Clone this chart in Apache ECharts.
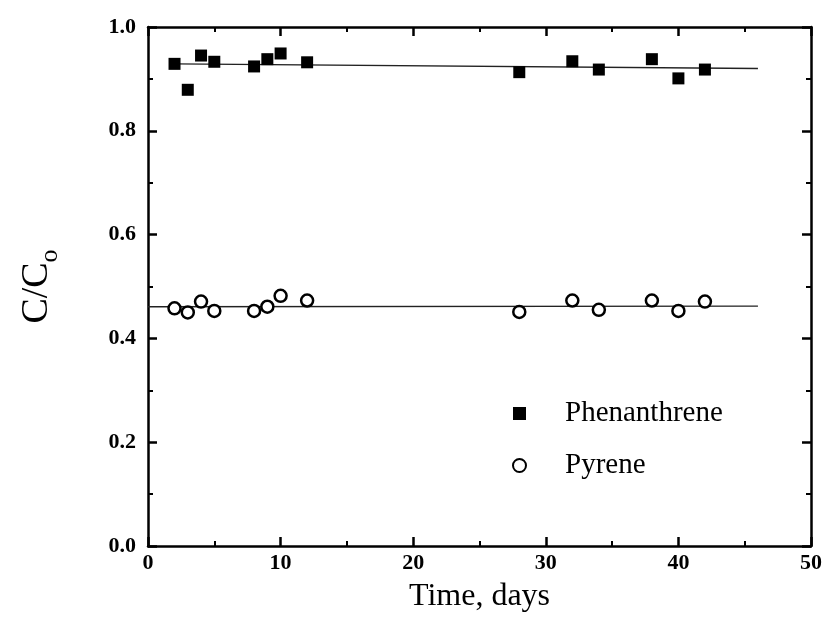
<!DOCTYPE html>
<html>
<head>
<meta charset="utf-8">
<script src="https://cdn.jsdelivr.net/npm/echarts@6/dist/echarts.min.js"></script>
<style>html,body{margin:0;padding:0;background:#fff}#c{width:825px;height:625px}</style>
</head>
<body>
<div id="c"></div>
<script>
const days = [2, 3, 4, 5, 8, 9, 10, 12, 28, 32, 34, 38, 40, 42];
const phenanthrene = [0.929, 0.879, 0.945, 0.933, 0.924, 0.938, 0.949, 0.932, 0.913, 0.934, 0.918, 0.938, 0.901, 0.918];
const pyrene = [0.458, 0.450, 0.471, 0.453, 0.453, 0.461, 0.482, 0.473, 0.451, 0.473, 0.455, 0.473, 0.453, 0.471];
const phenFitX = [2, 46];
const phenFitY = [0.929, 0.920];
const pyrFitX = [0, 46];
const pyrFitY = [0.461, 0.462];
const xTicks = [0, 10, 20, 30, 40, 50];
const yTicks = [0.0, 0.2, 0.4, 0.6, 0.8, 1.0];

const FONT = '"Liberation Serif", "Times New Roman", serif';
const pair = (xs, ys) => xs.map((x, i) => [x, ys[i]]);

const chart = echarts.init(document.getElementById('c'), null, {renderer: 'canvas'});
const axisCommon = {
  axisLine: {show: true, onZero: false, lineStyle: {color: '#000', width: 2.5}},
  axisTick: {show: true, inside: true, length: 9, lineStyle: {color: '#000', width: 2.5}},
  minorTick: {show: true, splitNumber: 2, length: 5, lineStyle: {color: '#000', width: 2}},
  splitLine: {show: false}
};
chart.setOption({
  animation: false,
  backgroundColor: '#fff',
  grid: {left: 148, right: 14, top: 27, bottom: 79},
  legend: {
    orient: 'vertical', left: 507, top: 394, itemGap: 23,
    itemWidth: 13, itemHeight: 13,
    data: ['Phenanthrene', 'Pyrene'],
    textStyle: {fontFamily: FONT, fontSize: 29, color: '#000', padding: [0, 0, 0, 34]}
  },
  xAxis: [
    Object.assign({
      type: 'value', min: 0, max: 50, interval: 10, position: 'bottom',
      name: 'Time, days', nameLocation: 'middle', nameGap: 35,
      nameTextStyle: {fontFamily: FONT, fontSize: 32, color: '#000'},
      axisLabel: {fontFamily: FONT, fontSize: 22, fontWeight: 'bold', color: '#000', margin: 6,
        formatter: v => xTicks.includes(v) ? String(v) : ''}
    }, axisCommon),
    Object.assign({
      type: 'value', min: 0, max: 50, interval: 10, position: 'top',
      axisLabel: {show: false}
    }, axisCommon)
  ],
  yAxis: [
    Object.assign({
      type: 'value', min: 0, max: 1, interval: 0.2, position: 'left',
      name: '{c|C/C}{o|o}', nameLocation: 'middle', nameGap: 92, nameRotate: 90,
      nameTextStyle: {
        color: '#000',
        rich: {
          c: {fontFamily: FONT, fontSize: 38, lineHeight: 38, verticalAlign: 'top', color: '#000'},
          o: {fontFamily: FONT, fontSize: 26, lineHeight: 26, verticalAlign: 'top', padding: [19, 0, 0, 0], color: '#000'}
        }
      },
      axisLabel: {fontFamily: FONT, fontSize: 22, fontWeight: 'bold', color: '#000', margin: 12,
        formatter: v => yTicks.some(t => Math.abs(t - v) < 1e-9) ? v.toFixed(1) : ''}
    }, axisCommon),
    Object.assign({
      type: 'value', min: 0, max: 1, interval: 0.2, position: 'right',
      axisLabel: {show: false}
    }, axisCommon)
  ],
  series: [
    {
      name: 'PhenFit', type: 'line', data: pair(phenFitX, phenFitY), symbol: 'none',
      lineStyle: {color: '#222', width: 1.3}, silent: true, z: 1
    },
    {
      name: 'PyrFit', type: 'line', data: pair(pyrFitX, pyrFitY), symbol: 'none',
      lineStyle: {color: '#222', width: 1.3}, silent: true, z: 1
    },
    {
      name: 'Phenanthrene', type: 'scatter', data: pair(days, phenanthrene),
      symbol: 'rect', symbolSize: 12, itemStyle: {color: '#000', opacity: 1}, z: 3
    },
    {
      name: 'Pyrene', type: 'scatter', data: pair(days, pyrene),
      symbol: 'circle', symbolSize: 12, itemStyle: {color: '#fff', borderColor: '#000', borderWidth: 2.5, opacity: 1}, z: 3
    }
  ]
});
</script>
</body>
</html>
